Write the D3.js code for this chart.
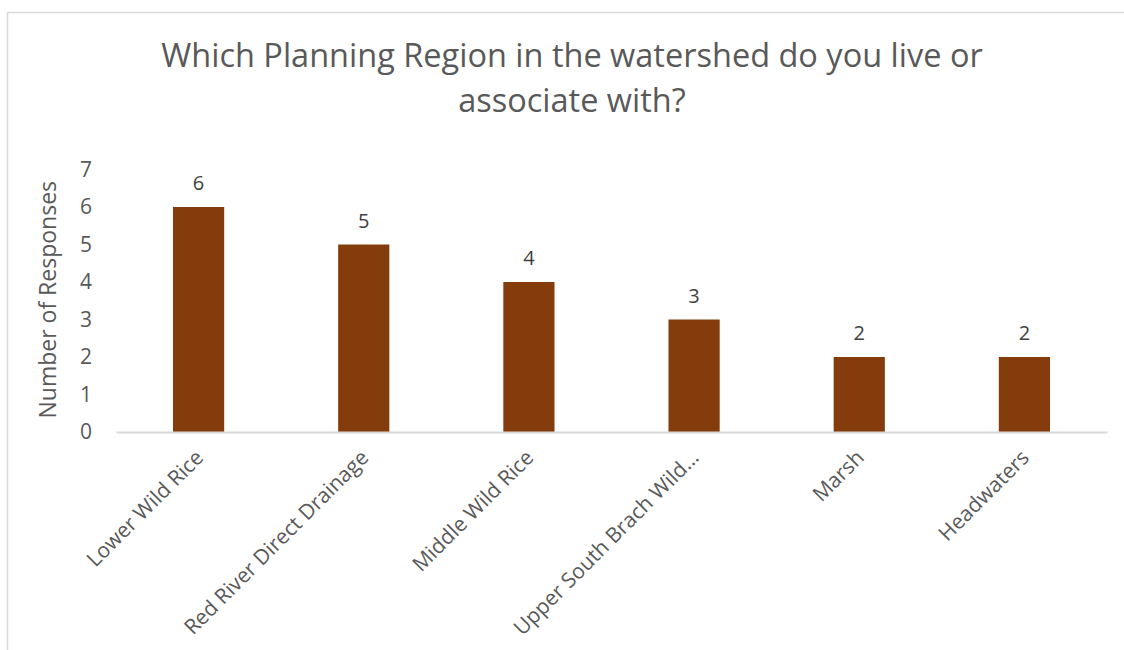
<!DOCTYPE html>
<html>
<head>
<meta charset="utf-8">
<script src="https://cdn.jsdelivr.net/npm/d3@7"></script>
<style>
  html, body { margin: 0; padding: 0; background: #fff; }
  svg { display: block; font-family: "Open Sans", "Noto Sans", sans-serif; }
</style>
</head>
<body>
<svg id="chart" width="1124" height="650"></svg>
<script>
// Survey responses by planning region
const categories = [
  "Lower Wild Rice",
  "Red River Direct Drainage",
  "Middle Wild Rice",
  "Upper South Brach Wild\u2026",
  "Marsh",
  "Headwaters"
];
const responses = [6, 5, 4, 3, 2, 2];
const yTicks = [0, 1, 2, 3, 4, 5, 6, 7];
const titleLines = [
  "Which Planning Region in the watershed do you live or",
  "associate with?"
];
const yAxisTitle = "Number of Responses";

const svg = d3.select("#chart");
const W = 1124, H = 650;
const margin = { left: 116, right: 17, top: 170, bottom: 218 };
const textColor = "#595959";

// chart frame
svg.append("rect")
  .attr("x", 7.5).attr("y", 12.5)
  .attr("width", W + 20).attr("height", H + 20)
  .attr("fill", "#fff")
  .attr("stroke", "#d9d9d9")
  .attr("stroke-width", 1.5);

const x = d3.scaleBand()
  .domain(categories)
  .range([margin.left, W - margin.right])
  .paddingInner(0.69)
  .paddingOuter(0.345);

const y = d3.scaleLinear()
  .domain([0, 7])
  .range([H - margin.bottom, H - margin.bottom - 7 * 37.5]);

// title
svg.append("g")
  .selectAll("text")
  .data(titleLines)
  .join("text")
  .attr("x", 572)
  .attr("y", (d, i) => 67 + i * 45)
  .attr("text-anchor", "middle")
  .attr("fill", textColor)
  .attr("font-size", 32.5)
  .text(d => d);

// y axis (labels only)
const yAxis = d3.axisLeft(y).tickValues(yTicks).tickSize(0).tickPadding(0).tickFormat(d3.format("d"));
const gy = svg.append("g")
  .attr("transform", `translate(${margin.left - 24},0)`)
  .call(yAxis);
gy.select(".domain").remove();
gy.selectAll("text")
  .attr("fill", textColor)
  .attr("font-size", 21)
  .attr("font-family", "Open Sans, Noto Sans, sans-serif");

// y axis title
svg.append("text")
  .attr("transform", `translate(56,${y(3.5) - 1}) rotate(-90)`)
  .attr("text-anchor", "middle")
  .attr("fill", textColor)
  .attr("font-size", 23)
  .text(yAxisTitle);

// bars
svg.append("g")
  .selectAll("rect")
  .data(categories)
  .join("rect")
  .attr("x", d => x(d))
  .attr("width", x.bandwidth())
  .attr("y", (d, i) => y(responses[i]))
  .attr("height", (d, i) => y(0) - y(responses[i]))
  .attr("fill", "#843c0c");

// x axis
const xAxis = d3.axisBottom(x).tickSize(0).tickPadding(0);
const gx = svg.append("g")
  .attr("transform", `translate(0,${y(0)})`)
  .call(xAxis);
gx.select(".domain")
  .attr("stroke", "#d9d9d9")
  .attr("stroke-width", 2);
gx.selectAll("text")
  .attr("fill", textColor)
  .attr("font-size", 21)
  .attr("font-family", "Open Sans, Noto Sans, sans-serif")
  .attr("text-anchor", "end")
  .attr("dy", null)
  .attr("transform", "translate(6,27) rotate(-45)");

// value labels
svg.append("g")
  .selectAll("text")
  .data(categories)
  .join("text")
  .attr("x", d => x(d) + x.bandwidth() / 2)
  .attr("y", (d, i) => y(responses[i]) - 17)
  .attr("text-anchor", "middle")
  .attr("fill", "#404040")
  .attr("font-size", 20)
  .text((d, i) => responses[i]);
</script>
</body>
</html>
